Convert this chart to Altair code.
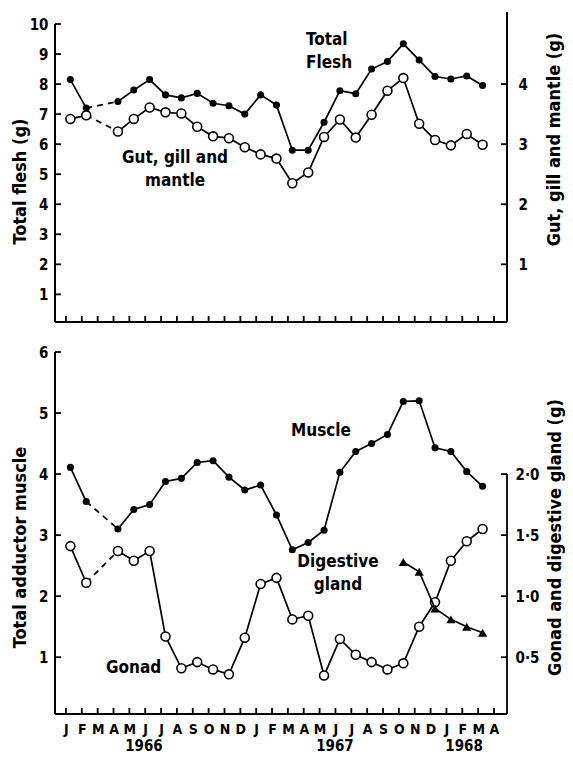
import altair as alt
import pandas as pd

FONT = "DejaVu Sans Condensed, Liberation Sans Narrow, DejaVu Sans, sans-serif"

# ---------------- data ----------------
month_labels = ["J", "F", "M", "A", "M", "J", "J", "A", "S", "O", "N", "D",
                "J", "F", "M", "A", "M", "J", "J", "A", "S", "O", "N", "D",
                "J", "F", "M", "A"]
years = ["1966", "1967", "1968"]
year_pos = [4.92, 16.97, 25.11]

# month index of each sample (0 = Jan 1966); March 1966 not sampled
sample_month = [0, 1] + list(range(3, 27))

total_flesh = [8.15, 7.2, 7.42, 7.8, 8.15, 7.64, 7.54, 7.69, 7.36, 7.28, 7.0, 7.64, 7.3,
               5.8, 5.8, 6.73, 7.78, 7.68, 8.5, 8.75, 9.34, 8.8, 8.25, 8.17, 8.27, 7.95]
gut_gill_mantle = [3.42, 3.48, 3.21, 3.42, 3.61, 3.53, 3.51, 3.29, 3.13, 3.10, 2.95, 2.83, 2.76,
                   2.35, 2.53, 3.12, 3.41, 3.11, 3.49, 3.89, 4.10, 3.34, 3.07, 2.98, 3.17, 2.99]
muscle = [4.11, 3.55, 3.10, 3.42, 3.50, 3.88, 3.93, 4.19, 4.22, 3.95, 3.74, 3.82, 3.33,
          2.76, 2.88, 3.08, 4.03, 4.37, 4.50, 4.65, 5.19, 5.20, 4.43, 4.37, 4.04, 3.80]
gonad = [1.41, 1.11, 1.37, 1.29, 1.37, 0.67, 0.41, 0.46, 0.40, 0.36, 0.66, 1.10, 1.15,
         0.81, 0.84, 0.35, 0.65, 0.52, 0.46, 0.40, 0.45, 0.75, 0.95, 1.29, 1.45, 1.55]
digestive_month = [21, 22, 23, 24, 25, 26]
digestive_gland = [1.28, 1.20, 0.90, 0.81, 0.75, 0.70]

top_left_ticks = list(range(1, 11))
top_right_ticks = [1, 2, 3, 4]
bot_left_ticks = list(range(1, 7))
bot_right_ticks = [0.5, 1.0, 1.5, 2.0]
month_ticks = list(range(28))

# ---------------- geometry ----------------
XMIN, XMAX = -0.69, 27.82
SHIFT = 0.28
W = 452
TOP_H, BOT_H = 298, 362
TL_DOM, TR_DOM = [0.08, 10], [0.04, 5]
BL_DOM, BR_DOM = [0.07, 6], [0.035, 3]
TICK_PX = 6
X_PX = W / (XMAX - XMIN)
XT = TICK_PX / X_PX

WEIGHT = "bold"
NO_VIEW = alt.ViewBackground(stroke="transparent", strokeWidth=0, fill="white")


def series_df(months, values):
    df = pd.DataFrame({"m": months, "v": values})
    df["x"] = df["m"] + SHIFT
    df["seg"] = (df["m"] >= 3).astype(int)
    return df


def gap_df(df):
    return df[df["m"].isin([1, 3])]


xs = alt.Scale(domain=[XMIN, XMAX], nice=False, zero=False)

common_axis = dict(grid=False, domain=False, ticks=False, tickSize=0,
                   labelFont=FONT, labelFontSize=15, labelFontWeight=WEIGHT,
                   labelColor="black", titleFont=FONT, titleFontSize=18,
                   titleFontWeight=WEIGHT, titleColor="black")

top_xaxis = alt.Axis(values=month_ticks, labels=False, title=None, **common_axis)
bot_xaxis = alt.Axis(values=month_ticks, labels=True, title=None, labelPadding=8,
                     labelExpr="[" + ",".join("'%s'" % m for m in month_labels) + "][datum.value]",
                     **{**common_axis, "labelFontSize": 14})


def X(field, xaxis):
    return alt.X(field, scale=xs, axis=xaxis)


def rules(df, ys, yaxis, xaxis, width=2.0):
    return alt.Chart(df).mark_rule(color="black", strokeWidth=width).encode(
        x=X("x:Q", xaxis), x2="x2:Q",
        y=alt.Y("y:Q", scale=ys, axis=yaxis), y2="y2:Q")


def frame_left(ydom, ytop, right_top, ys, yaxis, xaxis, y_per_px, yticks):
    """left axis line, bottom axis line, optional right line (left units), inward ticks"""
    y0 = ydom[0]
    rows = [dict(x=XMIN, x2=XMIN, y=y0, y2=ytop), dict(x=XMIN, x2=XMAX, y=y0, y2=y0)]
    if right_top is not None:
        rows.append(dict(x=XMAX, x2=XMAX, y=y0, y2=right_top))
    lines = rules(pd.DataFrame(rows), ys, yaxis, xaxis)
    tk = [dict(x=XMIN, x2=XMIN + XT, y=v, y2=v) for v in yticks]
    tk += [dict(x=m, x2=m, y=y0, y2=y0 + TICK_PX * y_per_px) for m in month_ticks]
    ticks = rules(pd.DataFrame(tk), ys, yaxis, xaxis, width=1.8)
    return [lines, ticks]


def frame_right(ydom, ytop, ys, yaxis, xaxis, yticks):
    rows = []
    if ytop is not None:
        rows.append(dict(x=XMAX, x2=XMAX, y=ydom[0], y2=ytop))
    rows += [dict(x=XMAX - XT, x2=XMAX, y=v, y2=v) for v in yticks]
    return [rules(pd.DataFrame(rows), ys, yaxis, xaxis, width=1.8)]


def lines_and_points(df, ys, yaxis, xaxis, point_mark, gap=True):
    base = alt.Chart(df).encode(x=X("x:Q", xaxis), y=alt.Y("v:Q", scale=ys, axis=yaxis))
    out = [base.mark_line(color="black", strokeWidth=1.7).encode(detail="seg:N")]
    if gap:
        out.append(alt.Chart(gap_df(df)).mark_line(color="black", strokeWidth=1.7,
                                                   strokeDash=[6, 5]).encode(
            x=X("x:Q", xaxis), y=alt.Y("v:Q", scale=ys, axis=yaxis)))
    out.append(base.mark_point(**point_mark))
    return out


FILLED = dict(shape="circle", filled=True, color="black", size=50, opacity=1)
OPEN = dict(shape="circle", filled=True, fill="white", stroke="black", strokeWidth=1.6,
            size=80, opacity=1)
TRI = dict(shape="triangle-up", filled=True, color="black", size=85, opacity=1)


def label(txt, x, y, ys, yaxis, xaxis, align="left", size=17, baseline="top"):
    d = pd.DataFrame({"t": [txt], "x": [x], "y": [y]})
    return alt.Chart(d).mark_text(font=FONT, fontSize=size, fontWeight=WEIGHT, align=align,
                                  baseline=baseline, lineBreak="\n", lineHeight=23,
                                  color="black").encode(
        x=X("x:Q", xaxis), y=alt.Y("y:Q", scale=ys, axis=yaxis), text="t:N")


# ---------------- top panel ----------------
ys_tl = alt.Scale(domain=TL_DOM, nice=False, zero=False)
ys_tr = alt.Scale(domain=TR_DOM, nice=False, zero=False)
ax_tl = alt.Axis(values=top_left_ticks, title="Total flesh (g)", labelPadding=7,
                 titlePadding=0, titleY=157, titleAngle=270, **common_axis)
ax_tr = alt.Axis(values=top_right_ticks, orient="right", title="Gut, gill and mantle (g)",
                 labelPadding=11, titlePadding=18, titleY=115, titleAngle=270,
                 titleBaseline="top", **common_axis)
tl_per_px = (TL_DOM[1] - TL_DOM[0]) / TOP_H

tf_df = series_df(sample_month, total_flesh)
gut_df = series_df(sample_month, gut_gill_mantle)

top_left = alt.layer(
    *lines_and_points(tf_df, ys_tl, ax_tl, top_xaxis, FILLED),
    *frame_left(TL_DOM, 10, 10.4, ys_tl, ax_tl, top_xaxis, tl_per_px, top_left_ticks),
    label("Total\nFlesh", 15.14, 9.73, ys_tl, ax_tl, top_xaxis),
    label("Gut, gill and\nmantle", 6.88, 5.81, ys_tl, ax_tl, top_xaxis, align="center"),
)
top_right = alt.layer(
    *lines_and_points(gut_df, ys_tr, ax_tr, top_xaxis, OPEN),
    *frame_right(TR_DOM, None, ys_tr, ax_tr, top_xaxis, top_right_ticks),
)
top = alt.layer(top_left, top_right).resolve_scale(y="independent").properties(
    width=W, height=TOP_H, view=NO_VIEW)

# ---------------- bottom panel ----------------
ys_bl = alt.Scale(domain=BL_DOM, nice=False, zero=False)
ys_br = alt.Scale(domain=BR_DOM, nice=False, zero=False)
ax_bl = alt.Axis(values=bot_left_ticks, title="Total adductor muscle", labelPadding=7,
                 titlePadding=9, titleY=195, titleAngle=270, **common_axis)
ax_br = alt.Axis(values=bot_right_ticks, orient="right",
                 title="Gonad and digestive gland (g)",
                 labelExpr="replace(format(datum.value, '.1f'), '.', '·')",
                 labelPadding=8, titlePadding=8, titleY=185, titleAngle=270,
                 titleBaseline="top", **common_axis)
bl_per_px = (BL_DOM[1] - BL_DOM[0]) / BOT_H

mu_df = series_df(sample_month, muscle)
go_df = series_df(sample_month, gonad)
dg_df = series_df(digestive_month, digestive_gland)

year_df = pd.DataFrame({"t": years, "x": year_pos, "y": [-0.46] * 3})
year_text = alt.Chart(year_df).mark_text(font=FONT, fontSize=15, fontWeight=WEIGHT,
                                         baseline="middle", color="black").encode(
    x=X("x:Q", bot_xaxis), y=alt.Y("y:Q", scale=ys_bl, axis=ax_bl), text="t:N")

bot_left = alt.layer(
    *lines_and_points(mu_df, ys_bl, ax_bl, bot_xaxis, FILLED),
    *frame_left(BL_DOM, 6, None, ys_bl, ax_bl, bot_xaxis, bl_per_px, bot_left_ticks),
    label("Muscle", 14.2, 4.84, ys_bl, ax_bl, bot_xaxis),
    label("Digestive\ngland", 17.16, 2.69, ys_bl, ax_bl, bot_xaxis, align="center"),
    label("Gonad", 2.53, 0.955, ys_bl, ax_bl, bot_xaxis),
    year_text,
)
bot_right = alt.layer(
    *lines_and_points(go_df, ys_br, ax_br, bot_xaxis, OPEN),
    *lines_and_points(dg_df, ys_br, ax_br, bot_xaxis, TRI, gap=False),
    *frame_right(BR_DOM, 2.0, ys_br, ax_br, bot_xaxis, bot_right_ticks),
)
bottom = alt.layer(bot_left, bot_right).resolve_scale(y="independent").properties(
    width=W, height=BOT_H, view=NO_VIEW)

chart = alt.vconcat(top, bottom, spacing=22,
                    padding={"left": 3, "top": 2, "right": 0, "bottom": 0}
                    ).configure_view(strokeWidth=0, stroke="transparent"
                    ).configure_axis(grid=False, domain=False, ticks=False
                    ).configure(background="white")

chart.save("out.html", embed_options={"renderer": "svg", "actions": False})
